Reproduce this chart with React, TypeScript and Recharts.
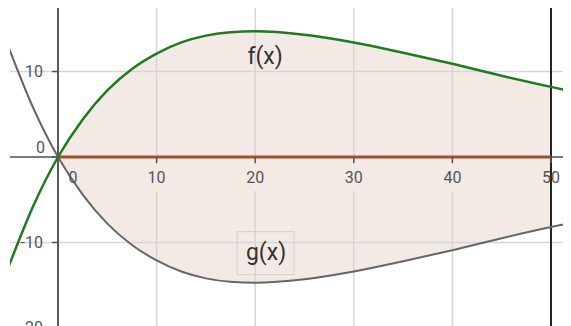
import { ComposedChart, Line, Area, XAxis, YAxis, ReferenceLine, ReferenceDot } from "recharts"

// sample points
const xs = [-5, -2.5, 0, 2.5, 5, 7.5, 10, 12.5, 15, 17.5, 20, 25, 30, 35, 40, 45, 50, 52.5]
const fVals = [-12.8, -5.7, 0, 4.4, 7.8, 10.3, 12.1, 13.4, 14.2, 14.6, 14.7, 14.3, 13.4, 12.2, 10.9, 9.5, 8.2, 7.6]
const gVals = [12.8, 5.7, 0, -4.4, -7.8, -10.3, -12.1, -13.4, -14.2, -14.6, -14.7, -14.3, -13.4, -12.2, -10.9, -9.5, -8.2, -7.6]

const xTicks = [0, 10, 20, 30, 40, 50]
const yTicks = [10, 0, -10, -20]
const gridX = [10, 20, 30, 40]
const gridY = [10, -10]
const lower = 0
const upper = 50

const data = xs.map((x, i) => ({
  x,
  f: fVals[i],
  g: gVals[i],
  band: x >= lower && x <= upper ? [gVals[i], fVals[i]] : null,
}))

const font = "Roboto, 'Noto Sans', sans-serif"

// label text, optionally with a small background that hides the grid behind it
const tickLabel = (text: string, dx: number, dy: number, anchor: "start" | "middle" | "end", bg: string) => (props: any) => {
  const { x, y } = props.viewBox
  const tx = x + 1 + dx
  const ty = y + 1 + dy
  const w = text.length * 9 + 6
  return (
    <g>
      {bg !== "none" && <rect x={tx - w / 2} y={ty - 13} width={w} height={26} fill={bg} />}
      <text x={tx} y={ty} textAnchor={anchor} dominantBaseline="central" fontSize={16} fill="#555" fontFamily={font}>
        {text}
      </text>
    </g>
  )
}

const fnLabel = (text: string, boxed: boolean) => (props: any) => {
  const { x, y } = props.viewBox
  const cx = x + 1
  const cy = y + 1
  return (
    <g>
      {boxed && <rect x={cx - 29} y={cy - 21} width={57} height={43} fill="none" stroke="#cfcfcf" strokeWidth={1} />}
      <text x={cx} y={cy} textAnchor="middle" dominantBaseline="central" fontSize={23} fill="#333" fontFamily={font}>
        {text}
      </text>
    </g>
  )
}

export default function App() {
  return (
    <ComposedChart width={563} height={318} data={data} margin={{ top: 0, right: 0, bottom: 0, left: 2 }}>
      <XAxis dataKey="x" type="number" domain={[-4.87, 52.03]} allowDataOverflow hide />
      <YAxis type="number" domain={[-19.77, 17.43]} allowDataOverflow hide />

      {gridX.map((v) => (
        <ReferenceLine key={"gx" + v} x={v} stroke="#d6d6d6" strokeWidth={1.5} />
      ))}
      {gridY.map((v) => (
        <ReferenceLine key={"gy" + v} y={v} stroke="#d6d6d6" strokeWidth={1.5} />
      ))}

      <Area dataKey="band" type="monotone" fill="#a0522d" fillOpacity={0.12} stroke="none" isAnimationActive={false} />

      <ReferenceLine y={0} stroke="#7a7a7a" strokeWidth={2} />
      <ReferenceLine x={0} stroke="#5a5a5a" strokeWidth={2} />
      <ReferenceLine x={upper} stroke="#222" strokeWidth={2} />
      <ReferenceLine segment={[{ x: lower, y: 0 }, { x: upper, y: 0 }]} stroke="#a0522d" strokeWidth={3} />

      {xTicks.map((v) => (
        <ReferenceDot
          key={"lx" + v}
          x={v}
          y={0}
          r={1}
          fill="none"
          stroke="none"
          label={tickLabel(String(v), v === 0 ? 15 : 0, 21, "middle", v > 0 && v < upper ? "#f3eae6" : "none")}
        />
      ))}
      {yTicks.map((v) => (
        <ReferenceDot
          key={"ly" + v}
          x={0}
          y={v}
          r={1}
          fill="none"
          stroke="none"
          ifOverflow="visible"
          label={tickLabel(String(v), v === 0 ? -13 : -15, v === 0 ? -9 : 0, "end", "none")}
        />
      ))}

      {xTicks.slice(1).map((v) => (
        <ReferenceLine key={"tx" + v} segment={[{ x: v, y: 0 }, { x: v, y: -0.7 }]} stroke="#555" strokeWidth={1.5} />
      ))}
      {yTicks.map((v) => (
        <ReferenceLine key={"ty" + v} segment={[{ x: -0.6, y: v }, { x: 0, y: v }]} stroke="#555" strokeWidth={1.5} ifOverflow="visible" />
      ))}

      <Line dataKey="g" type="monotone" stroke="#666" strokeWidth={2} dot={false} isAnimationActive={false} />
      <Line dataKey="f" type="monotone" stroke="#217a21" strokeWidth={2.5} dot={false} isAnimationActive={false} />

      <ReferenceDot x={21} y={11.7} r={1} fill="none" stroke="none" label={fnLabel("f(x)", false)} />
      <ReferenceDot x={21.1} y={-11.2} r={1} fill="none" stroke="none" label={fnLabel("g(x)", true)} />
    </ComposedChart>
  )
}
